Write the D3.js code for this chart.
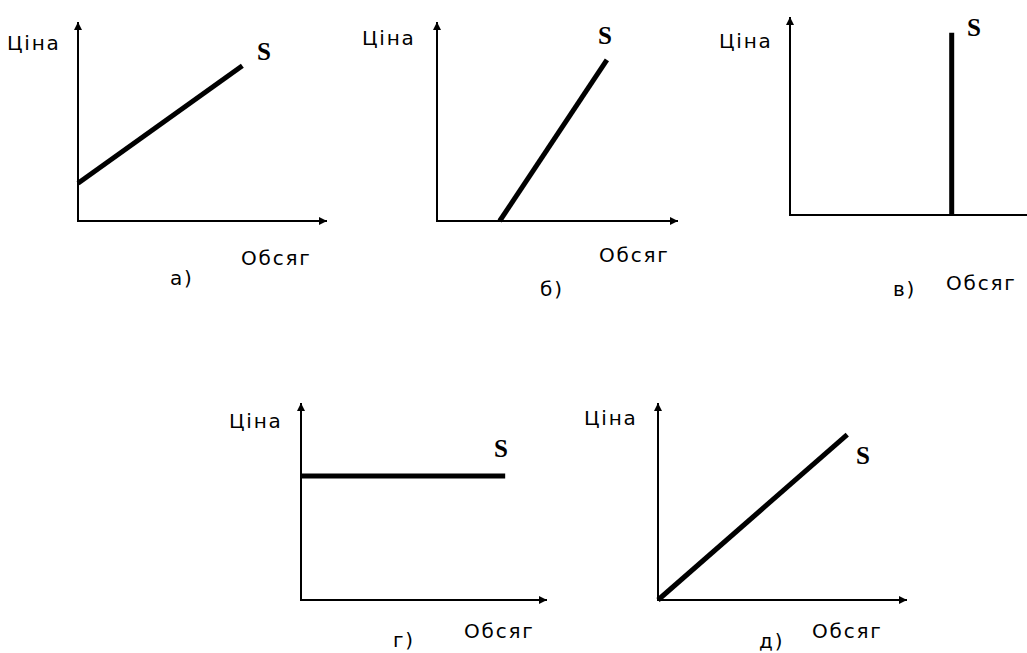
<!DOCTYPE html>
<html>
<head>
<meta charset="utf-8">
<script src="https://cdn.jsdelivr.net/npm/d3@7"></script>
<style>
  body { margin: 0; background: #fff; }
  svg { display: block; }
  .lbl { font-family: "DejaVu Sans", sans-serif; font-size: 20px; letter-spacing: 1.8px; fill: #000; }
  .s { font-family: "Liberation Serif", serif; font-weight: bold; font-size: 25px; fill: #000; }
</style>
</head>
<body>
<div id="chart"></div>
<script>
// panel captions and axis titles
var panelNames = ["а)", "б)", "в)", "г)", "д)"];
var yTitle = "Ціна";
var xTitle = "Обсяг";
var curveName = "S";

// supply line for each panel, [quantity, price] on a 0..10 scale
var supplyA = [[0, 1.9], [6.6, 7.8]];
var supplyB = [[2.6, 0], [7.05, 8.1]];
var supplyC = [[6.6, 0], [6.6, 9.2]];
var supplyD = [[0, 6.3], [8.3, 6.3]];
var supplyE = [[0, 0], [7.6, 8.4]];

var supplies = [supplyA, supplyB, supplyC, supplyD, supplyE];

// layout of the five small charts (pixels)
var panels = [
  {ox: 78,  oy: 221, w: 249, h: 199, yt: [7, 50],   xt: [241, 265], cap: [170, 285], s: [257, 60]},
  {ox: 437, oy: 221, w: 241, h: 199, yt: [362, 45], xt: [599, 262], cap: [540, 296], s: [598, 44]},
  {ox: 790, oy: 215, w: 245, h: 198, yt: [719, 48], xt: [946, 290], cap: [893, 296], s: [967, 36]},
  {ox: 301, oy: 600, w: 246, h: 197, yt: [229, 428], xt: [464, 638], cap: [393, 647], s: [494, 457]},
  {ox: 658, oy: 600, w: 249, h: 197, yt: [584, 425], xt: [812, 638], cap: [759, 648], s: [856, 464]}
];

var svg = d3.select("#chart")
  .append("svg")
    .attr("width", 1027)
    .attr("height", 653);

var defs = svg.append("defs");
defs.append("marker")
    .attr("id", "arrow")
    .attr("viewBox", "0 0 10 10")
    .attr("refX", 10)
    .attr("refY", 5)
    .attr("markerUnits", "userSpaceOnUse")
    .attr("markerWidth", 9)
    .attr("markerHeight", 8)
    .attr("orient", "auto")
  .append("path")
    .attr("d", "M0,0L10,5L0,10Z")
    .attr("fill", "#000");

panels.forEach(function(p, i) {
  var x = d3.scaleLinear().domain([0, 10]).range([p.ox, p.ox + p.w]);
  var y = d3.scaleLinear().domain([0, 10]).range([p.oy, p.oy - p.h]);

  var g = svg.append("g");

  // x axis, no ticks, arrow at the end
  var gx = g.append("g")
    .attr("transform", "translate(0," + p.oy + ")")
    .call(d3.axisBottom(x).tickValues([]).tickSizeOuter(0));
  gx.select(".domain")
    .attr("stroke", "#000")
    .attr("stroke-width", 2)
    .attr("d", "M" + x(0) + ",0H" + x(10))
    .attr("marker-end", "url(#arrow)");

  // y axis
  var gy = g.append("g")
    .attr("transform", "translate(" + p.ox + ",0)")
    .call(d3.axisLeft(y).tickValues([]).tickSizeOuter(0));
  gy.select(".domain")
    .attr("stroke", "#000")
    .attr("stroke-width", 2)
    .attr("d", "M0," + (y(0) + 1) + "V" + y(10))
    .attr("marker-end", "url(#arrow)");

  var line = d3.line()
    .x(function(d) { return x(d[0]); })
    .y(function(d) { return y(d[1]); });

  g.append("path")
    .datum(supplies[i])
    .attr("fill", "none")
    .attr("stroke", "#000")
    .attr("stroke-width", 5)
    .attr("d", line);

  g.append("text").attr("class", "lbl").attr("x", p.yt[0]).attr("y", p.yt[1]).text(yTitle);
  g.append("text").attr("class", "lbl").attr("x", p.xt[0]).attr("y", p.xt[1]).text(xTitle);
  g.append("text").attr("class", "lbl").attr("x", p.cap[0]).attr("y", p.cap[1]).text(panelNames[i]);
  g.append("text").attr("class", "s").attr("x", p.s[0]).attr("y", p.s[1]).text(curveName);
});
</script>
</body>
</html>
